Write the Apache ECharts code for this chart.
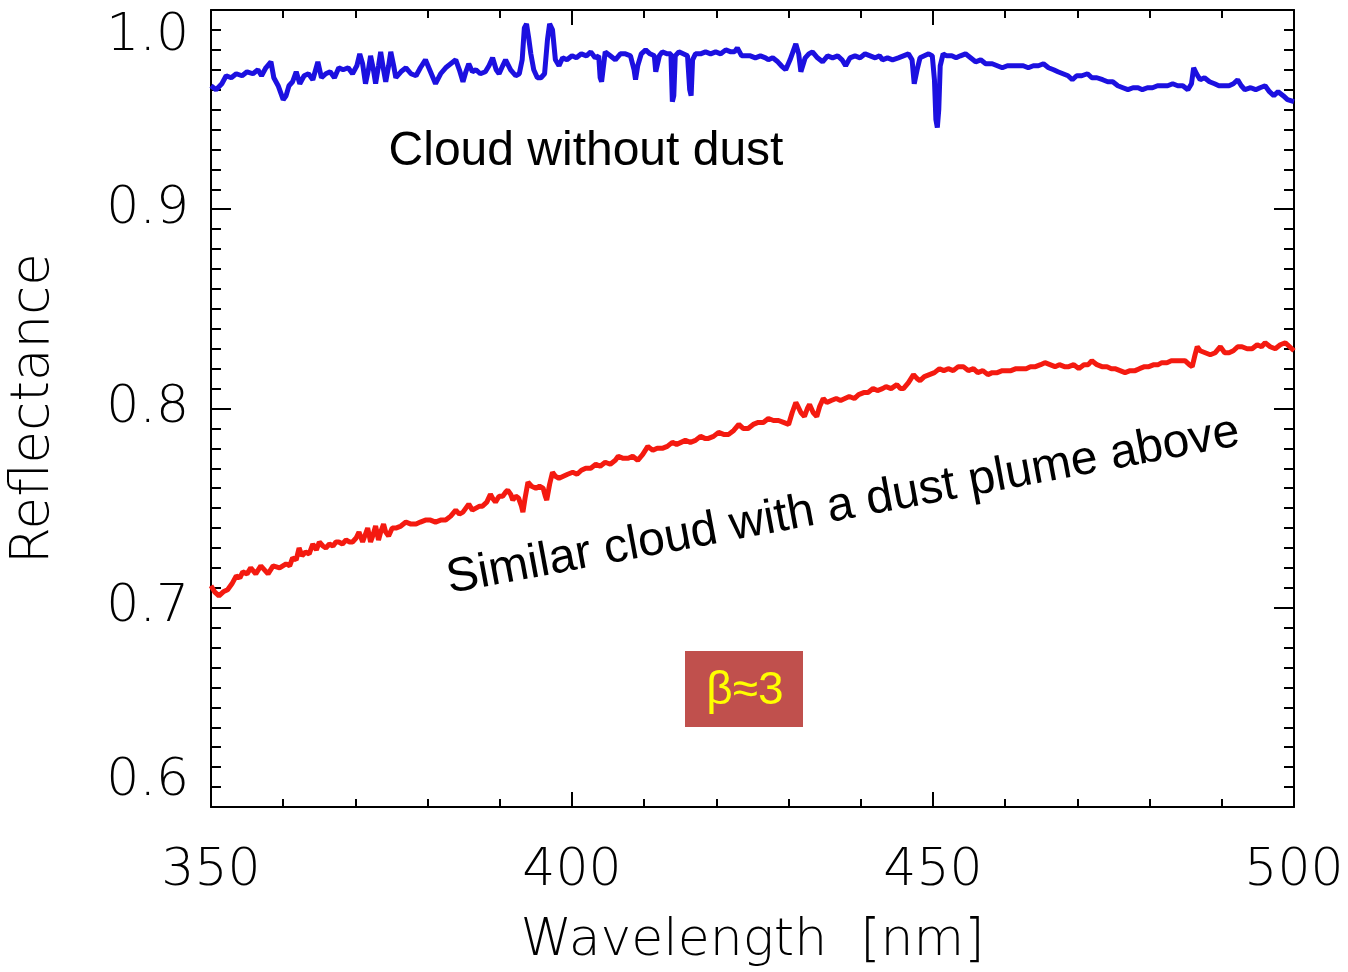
<!DOCTYPE html>
<html>
<head>
<meta charset="utf-8">
<script src="https://cdn.jsdelivr.net/npm/echarts@6/dist/echarts.min.js"></script>
<style>
  html, body { margin: 0; padding: 0; background: #fff; }
  #chart { width: 1348px; height: 972px; }
</style>
</head>
<body>
<div id="chart"></div>
<script>
// 无尘云 (blue) – wavelength [nm] / reflectance
const cloudWl = [350.0, 350.7, 351.5, 352.1, 352.8, 353.5, 354.3, 355.0, 355.8, 356.5, 357.0, 357.6, 358.3, 358.7, 359.3, 360.0, 360.4, 360.8, 361.3, 361.8, 362.3, 362.9, 363.5, 364.1, 364.8, 365.3, 365.9, 366.5, 367.1, 367.7, 368.3, 369.0, 369.6, 370.2, 370.6, 371.0, 371.4, 371.8, 372.1, 372.5, 372.8, 373.2, 373.5, 373.9, 374.2, 374.6, 374.9, 375.3, 375.6, 376.3, 377.0, 377.7, 378.4, 379.0, 379.7, 380.4, 381.1, 381.8, 382.5, 383.2, 383.9, 384.4, 384.9, 385.3, 385.7, 386.2, 386.7, 387.3, 388.0, 388.5, 389.0, 389.5, 389.9, 390.4, 390.8, 391.5, 392.2, 392.7, 393.1, 393.4, 393.7, 394.0, 394.3, 394.7, 395.2, 395.7, 396.2, 396.6, 396.9, 397.3, 397.7, 398.2, 398.7, 399.3, 400.0, 400.6, 401.3, 402.0, 402.6, 403.2, 403.7, 403.9, 404.1, 404.3, 404.6, 405.3, 406.0, 406.7, 407.4, 408.1, 408.6, 408.8, 409.1, 409.6, 410.2, 410.8, 411.4, 411.6, 411.8, 412.1, 412.5, 413.2, 413.7, 413.9, 414.1, 414.3, 414.8, 415.4, 416.0, 416.3, 416.5, 416.7, 417.1, 417.8, 418.5, 419.2, 419.9, 420.6, 421.3, 422.0, 422.5, 422.9, 423.5, 424.0, 424.7, 425.4, 426.1, 426.8, 427.2, 427.8, 428.5, 429.0, 429.6, 430.2, 430.7, 431.0, 431.4, 431.7, 431.9, 432.3, 432.8, 433.3, 434.0, 434.7, 435.4, 436.1, 436.8, 437.4, 437.9, 438.5, 439.2, 439.9, 440.6, 441.3, 442.0, 442.6, 443.0, 443.7, 444.4, 445.2, 445.9, 446.6, 447.1, 447.4, 447.6, 447.8, 448.2, 448.8, 449.4, 449.9, 450.2, 450.4, 450.6, 450.8, 451.0, 451.4, 451.9, 452.6, 453.2, 453.8, 454.5, 455.2, 455.9, 456.6, 457.3, 458.2, 458.9, 459.6, 460.3, 461.1, 461.8, 462.5, 463.2, 463.9, 464.6, 465.3, 466.0, 466.7, 467.3, 468.0, 468.7, 469.3, 469.9, 470.6, 471.4, 472.0, 472.7, 473.5, 474.2, 474.9, 475.6, 476.3, 477.0, 477.7, 478.4, 479.0, 479.7, 480.4, 481.1, 481.8, 482.5, 483.2, 483.9, 484.6, 485.3, 485.8, 486.1, 486.5, 487.0, 487.6, 488.3, 489.0, 489.6, 490.3, 491.0, 491.6, 492.2, 492.7, 493.2, 494.0, 494.7, 495.3, 496.0, 496.6, 497.2, 497.8, 498.5, 499.1, 500.0]
const cloudRefl = [0.962, 0.960, 0.963, 0.967, 0.966, 0.968, 0.967, 0.969, 0.968, 0.970, 0.967, 0.971, 0.974, 0.966, 0.962, 0.955, 0.957, 0.962, 0.964, 0.969, 0.963, 0.967, 0.968, 0.965, 0.974, 0.966, 0.968, 0.969, 0.966, 0.971, 0.970, 0.971, 0.968, 0.972, 0.978, 0.973, 0.963, 0.970, 0.977, 0.970, 0.963, 0.972, 0.979, 0.970, 0.964, 0.972, 0.979, 0.972, 0.966, 0.969, 0.971, 0.968, 0.967, 0.971, 0.975, 0.969, 0.963, 0.968, 0.971, 0.973, 0.975, 0.970, 0.964, 0.969, 0.973, 0.969, 0.970, 0.968, 0.969, 0.972, 0.976, 0.970, 0.968, 0.972, 0.975, 0.970, 0.967, 0.968, 0.975, 0.991, 0.993, 0.986, 0.978, 0.970, 0.966, 0.966, 0.968, 0.985, 0.993, 0.990, 0.975, 0.972, 0.976, 0.975, 0.977, 0.976, 0.978, 0.977, 0.979, 0.976, 0.977, 0.966, 0.964, 0.970, 0.979, 0.977, 0.975, 0.978, 0.978, 0.977, 0.970, 0.965, 0.972, 0.978, 0.980, 0.978, 0.977, 0.969, 0.970, 0.977, 0.979, 0.978, 0.978, 0.954, 0.957, 0.977, 0.979, 0.978, 0.977, 0.960, 0.957, 0.975, 0.978, 0.978, 0.979, 0.978, 0.979, 0.978, 0.980, 0.979, 0.979, 0.981, 0.977, 0.977, 0.977, 0.976, 0.977, 0.976, 0.975, 0.976, 0.974, 0.972, 0.970, 0.975, 0.980, 0.983, 0.978, 0.969, 0.970, 0.976, 0.978, 0.979, 0.976, 0.974, 0.977, 0.976, 0.977, 0.975, 0.972, 0.976, 0.977, 0.976, 0.978, 0.977, 0.976, 0.977, 0.975, 0.976, 0.975, 0.976, 0.977, 0.978, 0.975, 0.963, 0.962, 0.970, 0.976, 0.977, 0.978, 0.977, 0.965, 0.945, 0.941, 0.950, 0.972, 0.978, 0.977, 0.977, 0.976, 0.977, 0.978, 0.976, 0.974, 0.975, 0.973, 0.973, 0.972, 0.971, 0.972, 0.972, 0.972, 0.972, 0.971, 0.972, 0.972, 0.973, 0.971, 0.970, 0.969, 0.968, 0.967, 0.965, 0.967, 0.967, 0.968, 0.966, 0.966, 0.965, 0.964, 0.964, 0.962, 0.961, 0.960, 0.961, 0.961, 0.960, 0.961, 0.961, 0.962, 0.962, 0.962, 0.963, 0.962, 0.962, 0.960, 0.963, 0.971, 0.968, 0.965, 0.966, 0.964, 0.963, 0.962, 0.962, 0.962, 0.963, 0.965, 0.962, 0.960, 0.961, 0.960, 0.961, 0.962, 0.959, 0.957, 0.959, 0.957, 0.955, 0.954]

// 有尘云 (red)
const dustWl = [350.0, 350.5, 351.1, 351.7, 352.3, 352.9, 353.5, 354.0, 354.4, 355.0, 355.5, 356.2, 356.9, 357.4, 357.9, 358.6, 359.5, 360.4, 360.9, 361.3, 361.8, 362.2, 362.6, 363.1, 363.6, 364.1, 364.6, 365.0, 365.5, 365.9, 366.4, 366.9, 367.3, 367.7, 368.2, 368.7, 369.2, 369.6, 370.1, 370.5, 371.0, 371.3, 371.7, 372.1, 372.4, 372.8, 373.2, 373.5, 373.9, 374.2, 374.6, 375.1, 375.6, 376.3, 377.0, 377.7, 378.4, 379.0, 379.7, 380.4, 381.1, 381.8, 382.5, 383.2, 383.9, 384.4, 384.9, 385.3, 385.7, 386.2, 386.7, 387.2, 387.6, 388.2, 388.7, 389.0, 389.4, 389.9, 390.4, 390.8, 391.1, 391.5, 391.8, 392.2, 392.6, 393.0, 393.2, 393.5, 393.9, 394.4, 395.0, 395.5, 396.0, 396.3, 396.5, 396.9, 397.3, 397.7, 398.2, 398.8, 399.4, 400.1, 400.7, 401.3, 401.9, 402.6, 403.3, 403.9, 404.6, 405.3, 406.0, 406.4, 407.1, 407.8, 408.4, 409.1, 409.8, 410.5, 411.2, 411.8, 412.5, 413.2, 413.9, 414.5, 415.1, 415.7, 416.4, 417.1, 417.8, 418.4, 418.9, 419.6, 420.3, 421.0, 421.7, 422.4, 423.1, 423.7, 424.4, 425.1, 425.8, 426.5, 427.2, 427.9, 428.6, 429.3, 430.0, 430.5, 431.0, 431.3, 431.7, 432.2, 432.6, 432.9, 433.4, 433.9, 434.3, 434.8, 435.3, 435.9, 436.6, 437.2, 437.8, 438.4, 439.1, 439.7, 440.4, 441.0, 441.7, 442.3, 443.0, 443.5, 444.2, 445.0, 445.5, 445.9, 446.6, 447.3, 447.8, 448.2, 448.8, 449.5, 450.2, 450.9, 451.5, 452.1, 452.8, 453.5, 454.2, 454.9, 455.6, 456.2, 456.9, 457.6, 458.2, 458.9, 459.6, 460.3, 460.8, 461.5, 462.2, 462.9, 463.5, 464.2, 464.9, 465.5, 466.2, 466.9, 467.5, 468.2, 468.8, 469.5, 470.2, 470.9, 471.5, 472.0, 472.7, 473.4, 474.1, 474.7, 475.2, 475.9, 476.6, 477.3, 478.0, 478.6, 479.3, 479.9, 480.6, 481.2, 481.7, 482.4, 483.0, 483.5, 484.2, 484.9, 485.5, 485.9, 486.3, 486.6, 487.0, 487.7, 488.4, 489.1, 489.8, 490.4, 491.0, 491.6, 492.2, 492.8, 493.5, 494.2, 494.9, 495.5, 496.0, 496.7, 497.4, 498.1, 498.8, 499.4, 500.0]
const dustRefl = [0.711, 0.708, 0.706, 0.708, 0.709, 0.712, 0.716, 0.715, 0.718, 0.717, 0.720, 0.717, 0.721, 0.719, 0.717, 0.721, 0.720, 0.722, 0.721, 0.725, 0.724, 0.730, 0.726, 0.728, 0.727, 0.732, 0.729, 0.733, 0.731, 0.730, 0.732, 0.731, 0.733, 0.733, 0.732, 0.734, 0.733, 0.733, 0.735, 0.738, 0.733, 0.736, 0.740, 0.733, 0.736, 0.741, 0.734, 0.738, 0.742, 0.738, 0.736, 0.740, 0.740, 0.741, 0.743, 0.742, 0.742, 0.743, 0.744, 0.744, 0.743, 0.744, 0.744, 0.746, 0.749, 0.747, 0.748, 0.750, 0.752, 0.749, 0.750, 0.751, 0.751, 0.753, 0.757, 0.755, 0.753, 0.756, 0.756, 0.758, 0.759, 0.757, 0.754, 0.756, 0.755, 0.751, 0.748, 0.755, 0.763, 0.761, 0.760, 0.761, 0.760, 0.756, 0.754, 0.762, 0.768, 0.766, 0.765, 0.766, 0.767, 0.768, 0.767, 0.769, 0.770, 0.770, 0.772, 0.771, 0.773, 0.772, 0.774, 0.776, 0.775, 0.775, 0.776, 0.774, 0.777, 0.781, 0.779, 0.780, 0.780, 0.781, 0.783, 0.782, 0.783, 0.784, 0.783, 0.784, 0.786, 0.785, 0.785, 0.786, 0.788, 0.787, 0.787, 0.789, 0.792, 0.790, 0.790, 0.792, 0.793, 0.793, 0.795, 0.794, 0.794, 0.793, 0.792, 0.798, 0.803, 0.801, 0.798, 0.796, 0.800, 0.802, 0.798, 0.796, 0.801, 0.805, 0.803, 0.804, 0.805, 0.804, 0.805, 0.806, 0.805, 0.807, 0.808, 0.808, 0.810, 0.809, 0.810, 0.811, 0.810, 0.812, 0.810, 0.810, 0.813, 0.817, 0.815, 0.814, 0.816, 0.817, 0.818, 0.820, 0.819, 0.820, 0.819, 0.821, 0.821, 0.819, 0.820, 0.818, 0.819, 0.817, 0.818, 0.818, 0.819, 0.819, 0.819, 0.820, 0.820, 0.820, 0.821, 0.821, 0.822, 0.823, 0.822, 0.821, 0.822, 0.821, 0.821, 0.822, 0.820, 0.822, 0.822, 0.824, 0.822, 0.821, 0.821, 0.820, 0.820, 0.819, 0.818, 0.819, 0.819, 0.820, 0.821, 0.821, 0.822, 0.822, 0.823, 0.823, 0.824, 0.824, 0.824, 0.824, 0.822, 0.821, 0.827, 0.831, 0.829, 0.828, 0.827, 0.828, 0.831, 0.828, 0.828, 0.829, 0.831, 0.831, 0.830, 0.830, 0.832, 0.831, 0.833, 0.831, 0.830, 0.832, 0.833, 0.831, 0.829]

// 坐标轴
const xTicks = [350, 400, 450, 500]
const yTicks = [0.6, 0.7, 0.8, 0.9, 1.0]
const xName = 'Wavelength  [nm]'
const yName = 'Reflectance'

// 注释文字
const cloudLabel = 'Cloud without dust'
const dustLabel = 'Similar cloud with a dust plume above'
const betaLabel = 'β≈3'

const axisFont = 'DejaVu Sans'
const noteFont = 'Liberation Sans'

function pairs (xs, ys) {
  return xs.map((x, i) => [x, ys[i]])
}

const frameAxis = {
  axisLine: { show: true, onZero: false, lineStyle: { color: '#000', width: 2 } },
  splitLine: { show: false }
}

const myChart = echarts.init(document.getElementById('chart'), null, { renderer: 'canvas' })
const option = {
  animation: false,
  backgroundColor: '#fff',
  grid: { left: 210, right: 54, top: 10, bottom: 165 },
  xAxis: [
    {
      ...frameAxis,
      type: 'value',
      min: xTicks[0],
      max: xTicks[xTicks.length - 1],
      interval: 50,
      position: 'bottom',
      name: xName,
      nameLocation: 'middle',
      nameGap: 108,
      nameTextStyle: { fontFamily: axisFont, fontWeight: 200, fontSize: 52, color: '#000' },
      axisTick: { inside: true, length: 15, lineStyle: { color: '#000', width: 2 } },
      minorTick: { show: true, splitNumber: 5, length: 8, lineStyle: { color: '#000', width: 2 } },
      axisLabel: { fontFamily: axisFont, fontWeight: 200, fontSize: 52, color: '#000', margin: 38 }
    },
    {
      ...frameAxis,
      type: 'value',
      min: xTicks[0],
      max: xTicks[xTicks.length - 1],
      interval: 50,
      position: 'top',
      axisTick: { inside: true, length: 15, lineStyle: { color: '#000', width: 2 } },
      minorTick: { show: true, splitNumber: 5, length: 8, lineStyle: { color: '#000', width: 2 } },
      axisLabel: { show: false }
    }
  ],
  yAxis: [
    {
      ...frameAxis,
      type: 'value',
      min: yTicks[0],
      max: yTicks[yTicks.length - 1],
      interval: 0.1,
      position: 'left',
      name: yName,
      nameLocation: 'middle',
      nameGap: 150,
      nameTextStyle: { fontFamily: axisFont, fontWeight: 200, fontSize: 53, color: '#000' },
      axisTick: { inside: true, length: 20, lineStyle: { color: '#000', width: 2 } },
      minorTick: { show: true, splitNumber: 10, length: 10, lineStyle: { color: '#000', width: 2 } },
      axisLabel: {
        fontFamily: axisFont, fontWeight: 200, fontSize: 52, color: '#000', margin: 22,
        formatter: v => v.toFixed(1),
        verticalAlignMaxLabel: 'top',
        verticalAlignMinLabel: 'bottom'
      }
    },
    {
      ...frameAxis,
      type: 'value',
      min: yTicks[0],
      max: yTicks[yTicks.length - 1],
      interval: 0.1,
      position: 'right',
      axisTick: { inside: true, length: 20, lineStyle: { color: '#000', width: 2 } },
      minorTick: { show: true, splitNumber: 10, length: 10, lineStyle: { color: '#000', width: 2 } },
      axisLabel: { show: false }
    }
  ],
  series: [
    {
      name: 'cloud',
      type: 'line',
      xAxisIndex: 0,
      yAxisIndex: 0,
      showSymbol: false,
      data: pairs(cloudWl, cloudRefl),
      lineStyle: { color: '#1c10e0', width: 5 }
    },
    {
      name: 'dust',
      type: 'line',
      xAxisIndex: 0,
      yAxisIndex: 0,
      showSymbol: false,
      data: pairs(dustWl, dustRefl),
      lineStyle: { color: '#f41a10', width: 5 }
    }
  ],
  graphic: [
    {
      type: 'text',
      x: 586,
      y: 152,
      style: { text: cloudLabel, fontFamily: noteFont, fontSize: 48, fill: '#000', align: 'center', verticalAlign: 'middle' }
    },
    {
      type: 'text',
      x: 843,
      y: 506,
      rotation: 0.185,
      style: { text: dustLabel, fontFamily: noteFont, fontSize: 48, fill: '#000', align: 'center', verticalAlign: 'middle' }
    },
    {
      type: 'rect',
      shape: { x: 685, y: 651, width: 118, height: 76 },
      style: { fill: '#c0504d' }
    },
    {
      type: 'text',
      x: 745,
      y: 691,
      style: { text: betaLabel, fontFamily: noteFont, fontSize: 46, fill: '#ffff00', align: 'center', verticalAlign: 'middle' }
    }
  ]
}
myChart.setOption(option)
</script>
</body>
</html>
